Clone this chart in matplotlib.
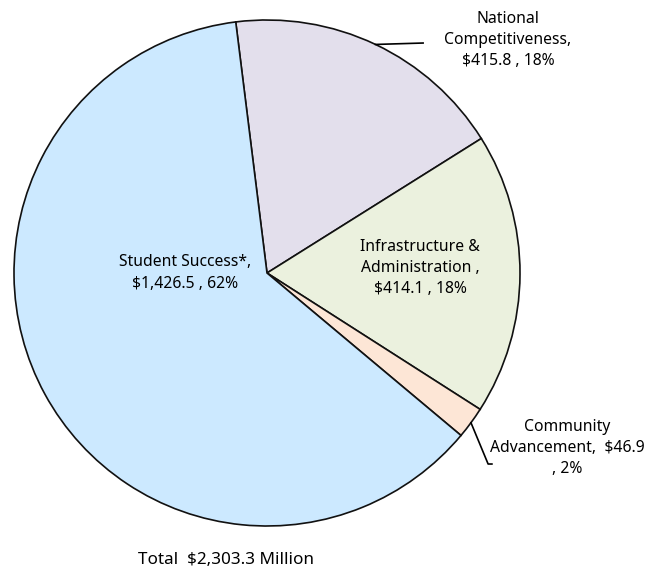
import matplotlib.pyplot as plt
import numpy as np

plt.rcParams['font.family'] = ['Noto Sans', 'DejaVu Sans']

# Budget categories and amounts ($ million)
categories = ["National\nCompetitiveness,", "Infrastructure &\nAdministration ,",
              "Community\nAdvancement,", "Student Success*,"]
values = [415.8, 414.1, 46.9, 1426.5]
value_text = ["$415.8 , 18%", "$414.1 , 18%", "$46.9\n, 2%", "$1,426.5 , 62%"]
colors = ["#E3DFEC", "#EBF1DE", "#FDE6D6", "#CCE9FF"]
total_label = "Total  $2,303.3 Million"

fig = plt.figure(figsize=(6.62, 5.74), dpi=100)
# square axes so the pie sits where it should on the canvas
cx, cy, r = 267, 273, 253
ax = fig.add_axes([(cx - r) / 662, (574 - cy - r) / 574, 2 * r / 662, 2 * r / 574])

start = 97.1
wedges, _ = ax.pie(values, colors=colors, startangle=start, counterclock=False,
                   radius=1.0,
                   wedgeprops=dict(edgecolor="#111111", linewidth=1.2))
ax.set_xlim(-1, 1)
ax.set_ylim(-1, 1)
ax.set_aspect('equal')
ax.axis('off')

# mid angle of each wedge (degrees, standard orientation)
mids = [np.radians((w.theta1 + w.theta2) / 2) for w in wedges]

fs = 11.3
# inside labels
ax.text(0.605, 0.02, categories[1] + "\n" + value_text[1], ha='center', va='center',
        fontsize=fs, linespacing=1.45)
ax.text(-0.324, 0.0, categories[3] + "\n" + value_text[3], ha='center', va='center',
        fontsize=fs, linespacing=1.45)

# National Competitiveness, with leader line
m = mids[0]
ex, ey = np.cos(m), np.sin(m)
ax.plot([ex, 0.617], [ey, 0.909], color='black', lw=1.2, clip_on=False)
ax.text(0.953, 0.921, categories[0] + "\n" + value_text[0], ha='center', va='center',
        fontsize=fs, linespacing=1.45)

# Community Advancement, with leader line
m = mids[2]
ex, ey = np.cos(m), np.sin(m)
ax.plot([ex, 0.874, 0.889], [ey, -0.755, -0.755], color='black', lw=1.2, clip_on=False)
ax.text(1.186, -0.692, categories[2] + "  " + value_text[2].split("\n")[0] + "\n" +
        value_text[2].split("\n")[1], ha='center', va='center', fontsize=fs,
        linespacing=1.45, clip_on=False)

ax.text(-0.162, -1.134, total_label, ha='center', va='center', fontsize=fs + 1)

fig.savefig("out.png", dpi=100)
